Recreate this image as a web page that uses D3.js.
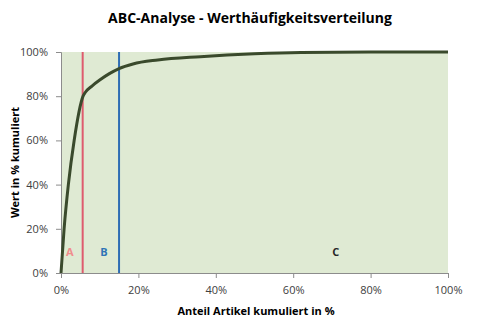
<!DOCTYPE html>
<html>
<head>
<meta charset="utf-8">
<script src="https://cdn.jsdelivr.net/npm/d3@7"></script>
<style>
  body { margin: 0; background: #fff; }
  svg text { font-family: "Open Sans", "DejaVu Sans", sans-serif; }
</style>
</head>
<body>
<div class="chart"></div>
<script>
var width = 478, height = 326;

// cumulative share of articles (%) vs cumulative value (%)
var anteil = [0, 0.8, 1.9, 3.4, 5.7, 6.3, 8, 10, 12.5, 15, 18.6, 25, 36, 50, 62, 80, 100];
var wert   = [0, 20, 40, 60, 80, 81.8, 84.6, 87.3, 90.2, 92.5, 94.6, 96.4, 97.9, 99.2, 99.8, 100, 100];

// class boundaries
var grenzen = [{x: 5.6, color: "#de5b6e"}, {x: 15, color: "#2e6db4"}];
var klassen = [
  {name: "A", x: 2.3, y: 9.5, color: "#f08c8c"},
  {name: "B", x: 11.1, y: 9.5, color: "#2e75b6"},
  {name: "C", x: 71, y: 9.5, color: "#262626"}
];
var xTicks = [0, 20, 40, 60, 80, 100];
var yTicks = [0, 20, 40, 60, 80, 100];

var svg = d3.select(".chart").append("svg")
  .attr("width", width)
  .attr("height", height);

var x = d3.scaleLinear().domain([0, 100]).range([61, 448]);
var y = d3.scaleLinear().domain([0, 100]).range([273, 52]);

// plot area background
svg.append("rect")
  .attr("x", x(0)).attr("y", y(100))
  .attr("width", x(100) - x(0)).attr("height", y(0) - y(100))
  .attr("fill", "#dfead3");

// axes
var xAxis = svg.append("g")
  .attr("transform", "translate(0," + y(0) + ")")
  .call(d3.axisBottom(x).tickValues(xTicks).tickFormat(function (d) { return d + "%"; }).tickSizeOuter(0).tickSize(5).tickPadding(8));
var yAxis = svg.append("g")
  .attr("transform", "translate(" + x(0) + ",0)")
  .call(d3.axisLeft(y).tickValues(yTicks).tickFormat(function (d) { return d + "%"; }).tickSizeOuter(0).tickSize(5).tickPadding(8));

[xAxis, yAxis].forEach(function (g) {
  g.selectAll("path, line").attr("stroke", "#8c8c8c");
  g.selectAll("text").attr("fill", "#404040").style("font-size", "11px");
});

// boundary lines
svg.selectAll(".grenze")
  .data(grenzen)
  .join("line")
  .attr("class", "grenze")
  .attr("x1", function (d) { return x(d.x); })
  .attr("x2", function (d) { return x(d.x); })
  .attr("y1", y(0)).attr("y2", y(100))
  .attr("stroke", function (d) { return d.color; })
  .attr("stroke-width", 2);

// curve
var pts = anteil.map(function (a, i) { return [a, wert[i]]; });
svg.append("path")
  .datum(pts)
  .attr("fill", "none")
  .attr("stroke", "#3a4a2c")
  .attr("stroke-width", 3)
  .attr("stroke-linejoin", "round")
  .attr("d", d3.line()
    .x(function (d) { return x(d[0]); })
    .y(function (d) { return y(d[1]); })
    .curve(d3.curveMonotoneX));

// class labels
svg.selectAll(".klasse")
  .data(klassen)
  .join("text")
  .attr("class", "klasse")
  .attr("x", function (d) { return x(d.x); })
  .attr("y", function (d) { return y(d.y); })
  .attr("dy", "0.35em")
  .attr("text-anchor", "middle")
  .attr("fill", function (d) { return d.color; })
  .style("font-size", "11px")
  .style("font-weight", "bold")
  .text(function (d) { return d.name; });

// titles
svg.append("text")
  .attr("x", 250).attr("y", 23)
  .attr("text-anchor", "middle")
  .style("font-size", "14px").style("font-weight", "bold")
  .attr("fill", "#000")
  .text("ABC-Analyse - Werthäufigkeitsverteilung");

svg.append("text")
  .attr("x", 256).attr("y", 315)
  .attr("text-anchor", "middle")
  .style("font-size", "11px").style("font-weight", "bold")
  .attr("fill", "#000")
  .text("Anteil Artikel kumuliert in %");

svg.append("text")
  .attr("transform", "translate(15," + y(50) + ") rotate(-90)")
  .attr("text-anchor", "middle")
  .attr("dy", "0.35em")
  .style("font-size", "11px").style("font-weight", "bold")
  .attr("fill", "#000")
  .text("Wert in % kumuliert");
</script>
</body>
</html>
